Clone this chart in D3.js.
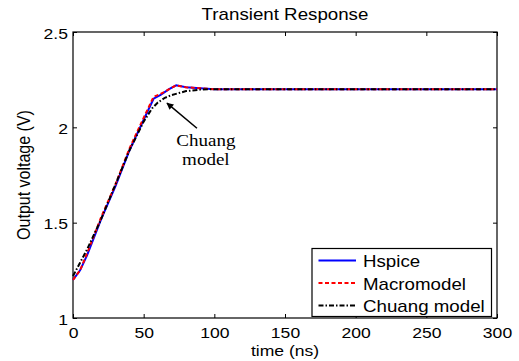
<!DOCTYPE html>
<html>
<head>
<meta charset="utf-8">
<script src="https://cdn.jsdelivr.net/npm/d3@7"></script>
<style>
  body { margin: 0; background: #fff; }
  svg { display: block; font-family: Arial, "Liberation Sans", sans-serif; }
</style>
</head>
<body>
<div id="chart"></div>
<script>
// time points (ns) and the three output voltage series (V)
const hspiceT = [0, 5, 10, 20, 30, 40, 50, 57, 62, 68, 73, 80, 90, 100, 300];
const hspiceV = [1.2, 1.25, 1.33, 1.52, 1.69, 1.88, 2.04, 2.15, 2.17, 2.2, 2.22, 2.21, 2.205, 2.2, 2.2];

const macroT = [0, 5, 10, 20, 30, 40, 50, 57, 62, 68, 73, 80, 90, 100, 300];
const macroV = [1.2, 1.25, 1.34, 1.53, 1.70, 1.89, 2.05, 2.16, 2.175, 2.2, 2.22, 2.21, 2.205, 2.2, 2.2];

const chuangT = [0, 5, 10, 20, 30, 40, 50, 56, 60, 65, 70, 80, 90, 100, 300];
const chuangV = [1.22, 1.29, 1.36, 1.52, 1.70, 1.88, 2.03, 2.10, 2.13, 2.155, 2.17, 2.19, 2.198, 2.2, 2.2];

const xTicks = [0, 50, 100, 150, 200, 250, 300];
const yTicks = [1, 1.5, 2, 2.5];
const legendNames = ["Hspice", "Macromodel", "Chuang model"];
const noteLines = ["Chuang", "model"];
const arrowFrom = [87.7, 1.995];
const arrowTo = [66.5, 2.127];

const width = 519, height = 361;
const margin = { top: 32, right: 22, bottom: 43, left: 73 };
const plotW = width - margin.left - margin.right;
const plotH = height - margin.top - margin.bottom;
const SX = 1.17; // the source figure is stretched sideways, text too

const svg = d3.select("#chart").append("svg")
  .attr("width", width)
  .attr("height", height);

svg.append("defs").append("marker")
  .attr("id", "arrow")
  .attr("viewBox", "0 0 10 10")
  .attr("refX", 9).attr("refY", 5)
  .attr("markerWidth", 8).attr("markerHeight", 7)
  .attr("markerUnits", "userSpaceOnUse")
  .attr("orient", "auto")
  .append("path")
  .attr("d", "M0,0 L10,5 L0,10 z")
  .attr("fill", "#000");

const g = svg.append("g")
  .attr("transform", "translate(" + margin.left + "," + margin.top + ")");

const x = d3.scaleLinear().domain([0, 300]).range([0, plotW]);
const y = d3.scaleLinear().domain([1, 2.5]).range([plotH, 0]);

// widen text about its anchor point
const stretch = (sel) => {
  sel.each(function () {
    const t = d3.select(this);
    const tx = +t.attr("x") || 0;
    t.attr("x", tx / SX).attr("transform", "scale(" + SX + ",1)");
  });
};

const axisStyle = (sel) => {
  sel.select(".domain").remove();
  sel.selectAll("line").attr("stroke", "#000");
  sel.selectAll("text").attr("fill", "#000").style("font-size", "15px").call(stretch);
};

// axes on all four sides, ticks pointing inward
g.append("g")
  .attr("transform", "translate(0," + plotH + ")")
  .call(d3.axisBottom(x).tickValues(xTicks).tickSizeInner(-4).tickSizeOuter(0).tickPadding(9))
  .call(axisStyle);

g.append("g")
  .call(d3.axisTop(x).tickValues(xTicks).tickSizeInner(-4).tickSizeOuter(0).tickFormat(""))
  .call(axisStyle);

g.append("g")
  .call(d3.axisLeft(y).tickValues(yTicks).tickSizeInner(-4).tickSizeOuter(0).tickPadding(5).tickFormat(d3.format("~g")))
  .call(axisStyle)
  .selectAll("text").attr("dy", "0.42em");

g.append("g")
  .attr("transform", "translate(" + plotW + ",0)")
  .call(d3.axisRight(y).tickValues(yTicks).tickSizeInner(-4).tickSizeOuter(0).tickFormat(""))
  .call(axisStyle);

g.append("rect")
  .attr("width", plotW).attr("height", plotH)
  .attr("fill", "none").attr("stroke", "#000").attr("stroke-width", 1.2);

const line = d3.line()
  .x(d => x(d[0]))
  .y(d => y(d[1]));

const series = [
  { name: legendNames[0], t: hspiceT, v: hspiceV, color: "#0000ff", dash: null },
  { name: legendNames[1], t: macroT, v: macroV, color: "#ff0000", dash: "4,2.5" },
  { name: legendNames[2], t: chuangT, v: chuangV, color: "#000000", dash: "5,2,1.5,2" }
];

series.forEach(s => {
  g.append("path")
    .datum(s.t.map((t, i) => [t, s.v[i]]))
    .attr("fill", "none")
    .attr("stroke", s.color)
    .attr("stroke-width", 2)
    .attr("stroke-dasharray", s.dash)
    .attr("d", line);
});

// annotation
g.append("line")
  .attr("x1", x(arrowFrom[0])).attr("y1", y(arrowFrom[1]))
  .attr("x2", x(arrowTo[0])).attr("y2", y(arrowTo[1]))
  .attr("stroke", "#000").attr("stroke-width", 1.5)
  .attr("marker-end", "url(#arrow)");

noteLines.forEach((d, i) => {
  g.append("g")
    .attr("transform", "translate(" + x(94) + "," + (y(1.9) + i * 19) + ")")
    .append("text")
    .attr("text-anchor", "middle")
    .attr("transform", "scale(1.12,1)")
    .style("font-family", "'Liberation Serif', 'Times New Roman', serif")
    .style("font-size", "17px")
    .text(d);
});

// legend
const legend = g.append("g")
  .attr("transform", "translate(" + (plotW - 185) + "," + (plotH - 69.5) + ")");

legend.append("rect")
  .attr("width", 179.5).attr("height", 68)
  .attr("fill", "#fff").attr("stroke", "#000").attr("stroke-width", 1.2);

series.forEach((s, i) => {
  const yy = 12 + i * 22.5;
  legend.append("line")
    .attr("x1", 6.5).attr("x2", 44)
    .attr("y1", yy).attr("y2", yy)
    .attr("stroke", s.color)
    .attr("stroke-width", 2)
    .attr("stroke-dasharray", s.dash);
  legend.append("g")
    .attr("transform", "translate(51," + (yy + 6.5) + ")")
    .append("text")
    .attr("transform", "scale(" + SX + ",1)")
    .style("font-size", "16px")
    .text(s.name);
});

// labels
const label = (tx, ty, txt, rot, size) => {
  svg.append("g")
    .attr("transform", "translate(" + tx + "," + ty + ") scale(" + SX + ",1)" + (rot ? " rotate(-90)" : ""))
    .append("text")
    .attr("text-anchor", "middle")
    .style("font-size", size + "px")
    .text(txt);
};

label(margin.left + plotW / 2, 20, "Transient Response", false, 16);
label(margin.left + plotW / 2, 355.5, "time (ns)", false, 15);
label(30, margin.top + plotH / 2, "Output voltage (V)", true, 16);
</script>
</body>
</html>
